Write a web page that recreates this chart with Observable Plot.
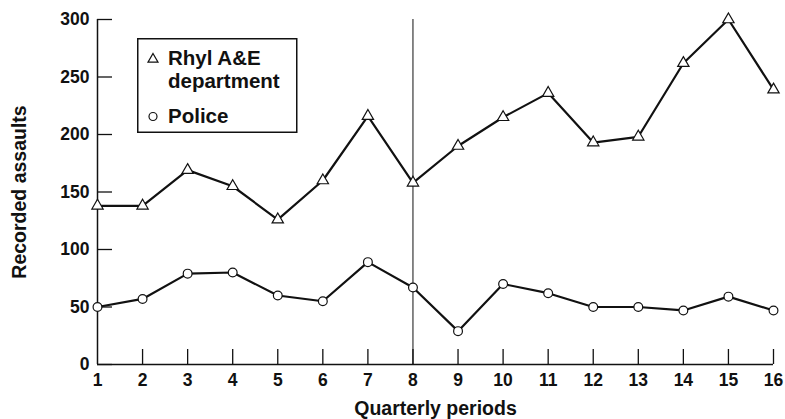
<!DOCTYPE html>
<html>
<head>
<meta charset="utf-8">
<script src="https://cdn.jsdelivr.net/npm/d3@7"></script>
<script src="https://cdn.jsdelivr.net/npm/@observablehq/plot@0.6"></script>
<style>
  html, body { margin: 0; padding: 0; background: #fff; }
  #wrap { position: relative; width: 785px; height: 419px; font-family: "Liberation Sans", Arial, Helvetica, sans-serif; color: #111; }
  #legend { position: absolute; left: 0; top: 0; pointer-events: none; }
  #legend text { font-family: "Liberation Sans", Arial, Helvetica, sans-serif; font-weight: bold; font-size: 20.5px; fill: #111; }
</style>
</head>
<body>
<div id="wrap">
  <div id="chart"></div>
  <svg id="legend" width="785" height="419">
    <rect x="137.75" y="38.75" width="159" height="93.5" fill="#fff" stroke="#111" stroke-width="1.5"/>
    <path d="M153,53.5 L158,62.2 L148,62.2 Z" fill="#fff" stroke="#111" stroke-width="1.2"/>
    <text x="168" y="65">Rhyl A&amp;E</text>
    <text x="168" y="88">department</text>
    <circle cx="153" cy="116.5" r="4" fill="#fff" stroke="#111" stroke-width="1.2"/>
    <text x="168" y="123">Police</text>
  </svg>
</div>
<script>
const periods = [1, 2, 3, 4, 5, 6, 7, 8, 9, 10, 11, 12, 13, 14, 15, 16];
const aeValues = [138, 138, 169, 155, 126, 160, 216, 158, 190, 215, 236, 193, 198, 262, 300, 239];
const policeValues = [50, 57, 79, 80, 60, 55, 89, 67, 29, 70, 62, 50, 50, 47, 59, 47];
const yTicks = [0, 50, 100, 150, 200, 250, 300];
const xTicks = periods;
const markerPeriod = 8;
const xTitle = "Quarterly periods";
const yTitle = "Recorded assaults";

const ae = periods.map((p, i) => ({period: p, value: aeValues[i]}));
const police = periods.map((p, i) => ({period: p, value: policeValues[i]}));

const chart = Plot.plot({
  width: 785,
  height: 419,
  marginLeft: 97,
  marginRight: 12,
  marginTop: 19,
  marginBottom: 55,
  x: {domain: [1, 16]},
  y: {domain: [0, 300]},
  style: {fontFamily: "'Liberation Sans', Arial, Helvetica, sans-serif", fontSize: "17.5px", fontWeight: "bold", color: "#111", background: "#fff"},
  marks: [
    Plot.axisY(yTicks, {tickSize: 15, dx: 15, fill: "none", label: null, strokeWidth: 1.3}),
    Plot.axisY(yTicks, {tickSize: 0, tickPadding: 8, label: null}),
    Plot.axisX(xTicks.slice(1), {tickSize: 15, dy: -15, fill: "none", label: null, strokeWidth: 1.3}),
    Plot.axisX(xTicks, {tickSize: 0, tickPadding: 9, label: null}),
    Plot.text([xTitle], {frameAnchor: "bottom", dy: 44, lineAnchor: "middle", textAnchor: "middle", fontSize: 19.5, fontWeight: "bold"}),
    Plot.text([yTitle], {frameAnchor: "left", dx: -78, rotate: -90, lineAnchor: "middle", textAnchor: "middle", fontSize: 19.5, fontWeight: "bold"}),
    Plot.ruleX([1], {strokeWidth: 1.5}),
    Plot.ruleY([0], {strokeWidth: 1.5}),
    Plot.ruleX([markerPeriod], {strokeWidth: 1}),
    Plot.line(ae, {x: "period", y: "value", stroke: "#111", strokeWidth: 2.2}),
    Plot.line(police, {x: "period", y: "value", stroke: "#111", strokeWidth: 2.2}),
    Plot.dot(ae, {x: "period", y: "value", symbol: "triangle", r: 4.2, fill: "#fff", stroke: "#111", strokeWidth: 1.2}),
    Plot.dot(police, {x: "period", y: "value", symbol: "circle", r: 4.4, fill: "#fff", stroke: "#111", strokeWidth: 1.2})
  ]
});
document.getElementById("chart").appendChild(chart);
</script>
</body>
</html>
